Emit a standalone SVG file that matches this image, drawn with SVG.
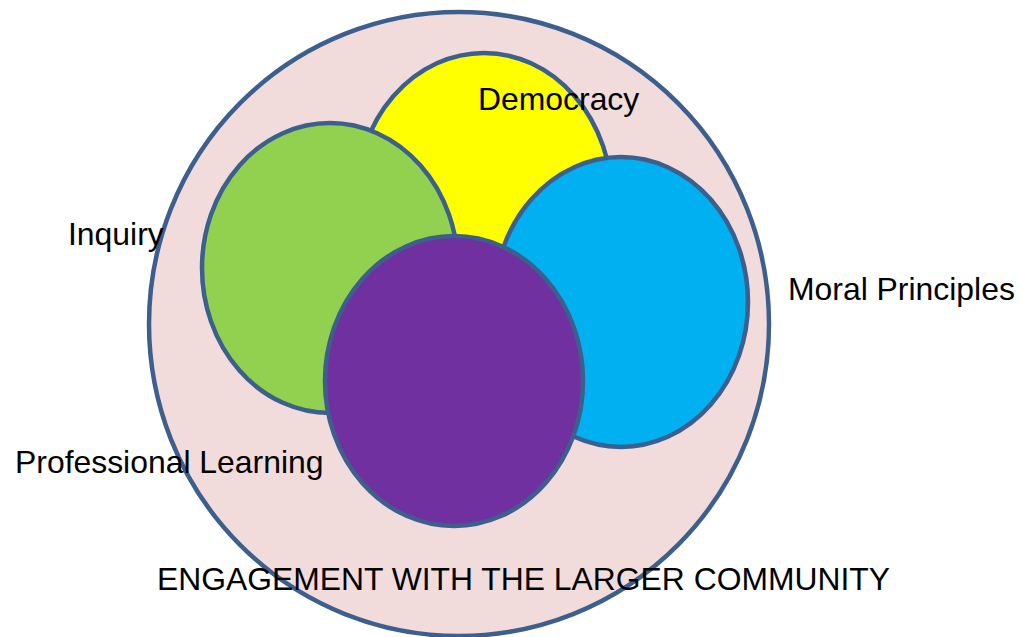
<svg xmlns="http://www.w3.org/2000/svg" width="1023" height="637" viewBox="0 0 1023 637">
<style>
.sh{stroke:#3c5f8d;stroke-width:4.5}
.lb{font-family:"Liberation Sans",Arial,sans-serif;font-size:31.9px;fill:#000}
</style>
<rect width="1023" height="637" fill="#fff"/>
<g id="community"><ellipse class="sh" cx="459" cy="324" rx="310" ry="312" fill="#f2dcdb"/></g>
<g id="democracy"><ellipse class="sh" cx="484" cy="200" rx="128" ry="147" fill="#ffff00"/></g>
<g id="inquiry"><ellipse class="sh" cx="330" cy="268" rx="128" ry="145" fill="#92d050"/></g>
<g id="moral"><ellipse class="sh" cx="621" cy="302" rx="127" ry="145" fill="#00b0f0"/></g>
<g id="professional"><ellipse class="sh" cx="454" cy="381" rx="129" ry="145" fill="#7030a0"/></g>
<g id="connectors"></g>
<g id="labels">
<text class="lb" x="478" y="110">Democracy</text>
<text class="lb" x="68" y="245">Inquiry</text>
<text class="lb" x="788" y="300">Moral Principles</text>
<text class="lb" x="15" y="473">Professional Learning</text>
<text class="lb" x="157" y="590" textLength="733" lengthAdjust="spacingAndGlyphs">ENGAGEMENT WITH THE LARGER COMMUNITY</text>
</g>
</svg>
